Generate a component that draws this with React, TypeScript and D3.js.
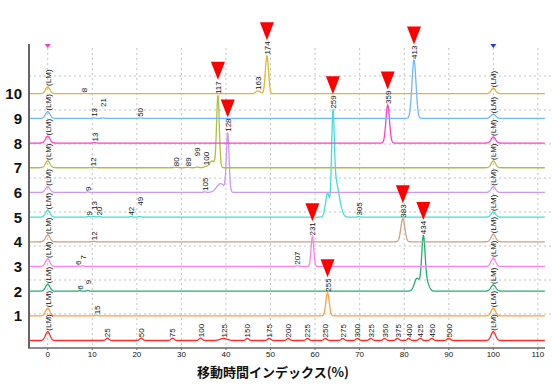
import React from "react";
import * as d3 from "d3";

// ---- data ----
const laneNames = ["", "1", "2", "3", "4", "5", "6", "7", "8", "9", "10"];
const laneColors = ["#ff2a2a", "#ffa040", "#20b070", "#ff80ee", "#d0a080", "#40e0d8", "#cc99ee", "#b0c040", "#ff40c8", "#70b8ff", "#e0b830"];
const xTicks = [0, 10, 20, 30, 40, 50, 60, 70, 80, 90, 100, 110];
const yGrid = [1, 2, 3, 4, 5, 6, 7, 8];

// peaks: [position(%), height, width(sigma), label, marked]
type Peak = [number, number, number, string, boolean];
const ladderPeaks: Peak[] = [
  [0, 26, 0.5, "(LM)", false], [13.4, 7, 0.35, "25", false], [21.0, 7, 0.35, "50", false],
  [28.0, 7, 0.35, "75", false], [34.3, 7, 0.35, "100", false], [39.5, 6, 0.8, "125", false],
  [44.8, 6, 0.35, "150", false], [49.7, 6, 0.35, "175", false], [54.0, 6, 0.35, "200", false],
  [58.3, 6, 0.35, "225", false], [62.3, 6, 0.35, "250", false], [66.2, 6, 0.35, "275", false],
  [69.5, 6, 0.35, "300", false], [72.5, 6, 0.35, "325", false], [75.6, 6, 0.35, "350", false],
  [78.5, 6, 0.35, "375", false], [81.0, 6, 0.35, "400", false], [83.6, 6, 0.35, "425", false],
  [86.2, 6, 0.35, "450", false], [90.0, 6, 0.4, "500", false], [100, 26, 0.5, "(LM)", false],
];
const lane1Peaks: Peak[] = [[0, 22, 0.5, "(LM)", false], [11.0, 1.5, 0.3, "15", false], [62.8, 68, 0.38, "255", true], [100, 22, 0.5, "(LM)", false]];
const lane2Peaks: Peak[] = [[0, 20, 0.5, "(LM)", false], [7.2, 1.5, 0.3, "6", false], [9.0, 1.5, 0.3, "9", false], [82.9, 38, 0.6, "", false], [84.3, 155, 0.38, "434", true], [85.1, 25, 0.5, "", false], [100, 18, 0.55, "(LM)", false]];
const lane3Peaks: Peak[] = [[0, 22, 0.5, "(LM)", false], [6.9, 1.5, 0.3, "6", false], [7.9, 1.5, 0.3, "7", false], [56.0, 2, 0.4, "207", false], [59.4, 88, 0.3, "231", true], [100, 25, 0.5, "(LM)", false]];
const lane4Peaks: Peak[] = [[0, 20, 0.5, "(LM)", false], [10.3, 1.5, 0.3, "12", false], [79.7, 68, 0.45, "383", true], [100, 22, 0.5, "(LM)", false]];
const lane5Peaks: Peak[] = [[0, 20, 0.5, "(LM)", false], [9.2, 2, 0.3, "9", false], [10.3, 2, 0.3, "13", false], [11.6, 1.5, 0.3, "20", false], [18.7, 1.5, 0.3, "42", false], [20.7, 1.5, 0.3, "49", false], [62.8, 70, 0.45, "", false], [64.0, 265, 0.3, "259", true], [64.6, 85, 0.55, "", false], [65.4, 35, 0.6, "", false], [69.8, 1.5, 0.3, "305", false], [100, 15, 0.5, "(LM)", false]];
const lane6Peaks: Peak[] = [[0, 17, 0.5, "(LM)", false], [9.0, 1.5, 0.3, "9", false], [35.2, 1.5, 0.3, "105", false], [38.8, 26, 0.9, "", false], [40.4, 170, 0.3, "128", true], [100, 17, 0.5, "(LM)", false]];
const lane7Peaks: Peak[] = [[0, 20, 0.5, "(LM)", false], [10.2, 1.5, 0.3, "12", false], [28.9, 1.5, 0.3, "80", false], [31.4, 1.5, 0.3, "89", false], [33.6, 2, 0.3, "99", false], [35.5, 3, 0.4, "100", false], [36.9, 20, 0.6, "", false], [38.2, 212, 0.3, "117", true], [100, 20, 0.5, "(LM)", false]];
const lane8Peaks: Peak[] = [[0, 20, 0.5, "(LM)", false], [10.5, 1.5, 0.3, "13", false], [76.3, 112, 0.4, "359", true], [100, 18, 0.5, "(LM)", false]];
const lane9Peaks: Peak[] = [[0, 20, 0.5, "(LM)", false], [10.3, 1.5, 0.3, "13", false], [12.4, 1.5, 0.3, "21", false], [20.8, 1.5, 0.3, "50", false], [82.2, 172, 0.45, "413", true], [100, 12, 0.55, "(LM)", false]];
const lane10Peaks: Peak[] = [[0, 20, 0.5, "(LM)", false], [8.2, 1.5, 0.3, "8", false], [47.2, 8, 0.5, "163", false], [49.2, 112, 0.35, "174", true], [100, 16, 0.5, "(LM)", false]];
const lanes: Peak[][] = [ladderPeaks, lane1Peaks, lane2Peaks, lane3Peaks, lane4Peaks, lane5Peaks, lane6Peaks, lane7Peaks, lane8Peaks, lane9Peaks, lane10Peaks];

// ---- layout ----
const W = 552, H = 386;
const X0 = 29, X1 = 545, YB = 348, YT = 44;
const x = d3.scaleLinear().domain([-4.2, 111.6]).range([X0, X1]);
const y = d3.scaleLinear().domain([0, 9]).range([YB, YB - 9 * 34]);
const laneOffset = (i: number) => 0.22 + i * 0.726;

function signal(peaks: Peak[], t: number) {
  let s = 0;
  for (const [p, h, w] of peaks) {
    const d = (t - p) / w;
    if (Math.abs(d) < 6) s += h * Math.exp(-0.5 * d * d);
  }
  return s / 100;
}

const samples = d3.range(-4.2, 111.6, 0.08);
const line = d3.line<[number, number]>().x((d) => x(d[0])).y((d) => y(d[1]));

const textLen = (s: string) => (s === "(LM)" ? 16.4 : s.length * 4.45);

export default function App() {
  const traces = lanes.map((peaks, i) => {
    const off = laneOffset(i);
    const pts: [number, number][] = samples.map((t) => [t, off + signal(peaks, t)]);
    return <path key={"t" + i} d={line(pts) || ""} fill="none" stroke={laneColors[i]} strokeWidth={1.3} />;
  });

  const labels: React.ReactNode[] = [];
  const tris: React.ReactNode[] = [];
  lanes.forEach((peaks, i) => {
    const off = laneOffset(i);
    let lastX = -1e9, lastLen = 0;
    peaks.forEach((pk, j) => {
      const p = pk[0];
      const lab = pk[3];
      const marked = pk[4];
      if (!lab) return;
      const px = x(p);
      const top = y(off + signal(peaks, p));
      let bottom = top - 1;
      if (px - lastX < 10 && lab !== "(LM)" && !marked) {
        bottom -= lastLen + 1;
        lastX = -1e9;
      } else {
        lastX = px;
        lastLen = textLen(lab);
      }
      labels.push(
        <text key={`l${i}-${j}`} transform={`translate(${px + 3},${bottom}) rotate(-90)`} fontSize={8} fontFamily="Liberation Sans, Arial, sans-serif" fill="#111">
          {lab}
        </text>
      );
      if (marked) {
        const tip = bottom - textLen(lab) - 1;
        tris.push(<path key={`m${i}-${j}`} d={`M${px - 7},${tip - 18}L${px + 7},${tip - 18}L${px},${tip}Z`} fill="#ff0000" />);
      }
    });
  });

  return (
    <svg width={W} height={H} style={{ position: "absolute", left: 0, top: 0, background: "#fff" }}>
      {/* grid */}
      {xTicks.map((t) => (
        <line key={"gx" + t} x1={x(t)} x2={x(t)} y1={YT + 4} y2={YB} stroke="#c4c4c4" strokeDasharray="2,3" />
      ))}
      {yGrid.map((g) => (
        <line key={"gy" + g} x1={X0} x2={W} y1={y(g)} y2={y(g)} stroke="#c4c4c4" strokeDasharray="2,3" />
      ))}
      {traces}
      {labels}
      {tris}
      {/* top markers */}
      <path d={`M${x(0) - 3},${YT}L${x(0) + 3},${YT}L${x(0)},${YT + 4}Z`} fill="#ff33cc" />
      <path d={`M${x(100) - 3},${YT}L${x(100) + 3},${YT}L${x(100)},${YT + 4}Z`} fill="#2233ff" />
      {/* axes */}
      <line x1={X0} x2={X0} y1={YT} y2={YB} stroke="#666" strokeWidth={2} />
      <line x1={X0 - 1} x2={X1} y1={YB} y2={YB} stroke="#666" strokeWidth={1.5} />
      {xTicks.map((t) => (
        <g key={"xt" + t}>
          <line x1={x(t)} x2={x(t)} y1={YB} y2={YB + 2} stroke="#666" />
          <text x={x(t)} y={YB + 9} fontSize={8} textAnchor="middle" fontFamily="Liberation Sans, Arial, sans-serif" fill="#111">
            {t}
          </text>
        </g>
      ))}
      {laneNames.map((n, i) =>
        n ? (
          <text key={"yl" + i} x={22} y={y(laneOffset(i)) + 5.5} fontSize={15} fontWeight="bold" textAnchor="end" fontFamily="Liberation Sans, Arial, sans-serif" fill="#111">
            {n}
          </text>
        ) : null
      )}
      <text x={273} y={377} fontSize={13} fontWeight="bold" textAnchor="middle" fontFamily="Noto Sans CJK JP, sans-serif" fill="#111">
        移動時間インデックス(%)
      </text>
    </svg>
  );
}
